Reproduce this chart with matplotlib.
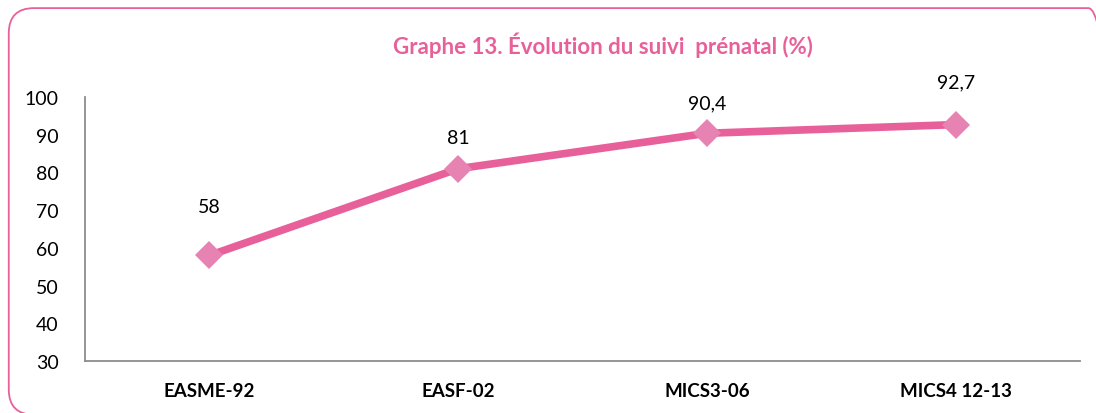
import matplotlib.pyplot as plt
from matplotlib.patches import FancyBboxPatch

# data
surveys = ["EASME-92", "EASF-02", "MICS3-06", "MICS4 12-13"]
suivi = [58, 81, 90.4, 92.7]
labels = ["58", "81", "90,4", "92,7"]
label_dy = [29, 16, 16, 25]  # points above marker

PINK = "#E8609A"
MARKER_PINK = "#E683B3"
AXIS_GREY = "#8C8C8C"

plt.rcParams["font.family"] = ["Lato", "DejaVu Sans"]

fig = plt.figure(figsize=(10.96, 4.14), dpi=100)
ax = fig.add_axes([0.0776, 0.1256, 0.908, 0.6375])

# rounded frame, right and bottom edges run off the picture
frame = FancyBboxPatch((0.008, -0.004), 1.008, 0.982,
                       boxstyle="round,pad=0,rounding_size=0.023",
                       transform=fig.transFigure, fill=False,
                       edgecolor=PINK, linewidth=1.3, mutation_aspect=2.65)
fig.patches.append(frame)

x = list(range(len(surveys)))
ax.plot(x, suivi, color=PINK, linewidth=5.5, solid_capstyle="butt", zorder=2)
ax.plot(x, suivi, linestyle="none", marker="D", markersize=14,
        color=MARKER_PINK, markeredgewidth=0, zorder=3)

for xi, yi, lab, dy in zip(x, suivi, labels, label_dy):
    ax.annotate(lab, (xi, yi), xytext=(0, dy), textcoords="offset points",
                ha="center", va="bottom", fontsize=14, color="black")

ax.set_xlim(-0.5, 3.5)
ax.set_ylim(30, 100)
ax.set_yticks(range(30, 101, 10))
ax.set_xticks(x)
ax.set_xticklabels(surveys, fontweight="bold", fontsize=13.5)
ax.tick_params(axis="both", length=0)
ax.tick_params(axis="y", labelsize=14, pad=19)
ax.tick_params(axis="x", pad=15)

for side in ["top", "right"]:
    ax.spines[side].set_visible(False)
for side in ["left", "bottom"]:
    ax.spines[side].set_color(AXIS_GREY)
    ax.spines[side].set_linewidth(1.3)

fig.text(0.55, 0.891, "Graphe 13. Évolution du suivi  prénatal (%)",
         ha="center", va="center", fontsize=16, fontweight="bold", color=PINK)

fig.savefig("out.png", dpi=100)
